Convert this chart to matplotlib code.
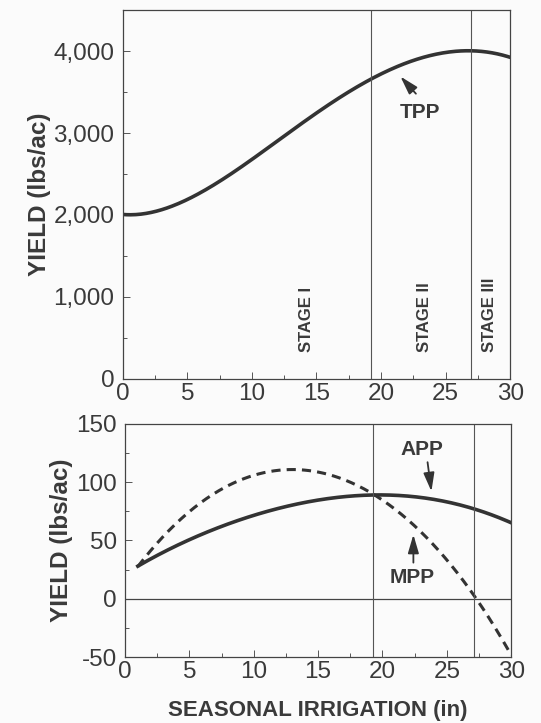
import numpy as np
import matplotlib.pyplot as plt
from matplotlib.ticker import MultipleLocator, FuncFormatter

plt.rcParams['font.family'] = ['Liberation Sans', 'DejaVu Sans']
plt.rcParams['axes.unicode_minus'] = False

# total physical product (lbs/ac) vs seasonal irrigation (in)
tpp_x = [0, 2.5, 5, 7.5, 10, 12.5, 15, 17.5, 20, 22.5, 25, 27.5, 30]
tpp_y = [2000, 2060, 2180, 2400, 2680, 2970, 3250, 3500, 3720, 3880, 3980, 4010, 3920]

# average and marginal physical product
app_x = [1, 2.5, 5, 7.5, 10, 12.5, 15, 17.5, 19.3, 22.5, 25, 27.5, 30]
app_y = [28, 37, 51, 62, 71, 79, 85, 88, 89, 87, 83, 76, 65]
mpp_x = [1, 2.5, 5, 7.5, 10, 12.5, 15, 17.5, 19.3, 22.5, 25, 27.2, 30]
mpp_y = [28, 47, 75, 94, 106, 110, 109, 100, 89, 62, 35, 0, -48]

stage_bounds = [19.2, 27.0]
stage_names = ['STAGE I', 'STAGE II', 'STAGE III']
stage_pos = [14.2, 23.4, 28.4]

ink = '#333333'
txt = '#3a3a3a'

fig = plt.figure(figsize=(5.41, 7.23), dpi=100)
fig.patch.set_facecolor('#fbfbfb')
ax1 = fig.add_axes([0.227, 0.476, 0.716, 0.510])
ax2 = fig.add_axes([0.231, 0.091, 0.714, 0.323])

def smooth(x, y):
    xs = np.linspace(x[0], x[-1], 300)
    c = np.polyfit(x, y, 5)
    return xs, np.polyval(c, xs)

def pointer(ax, tail, tip):
    ax.annotate('', xy=tip, xytext=tail,
                arrowprops=dict(arrowstyle='-|>,head_length=0.75,head_width=0.22',
                                color=ink, lw=1.3, shrinkA=0, shrinkB=0,
                                mutation_scale=15))

# top panel
xs, ys = smooth(tpp_x, tpp_y)
ax1.plot(xs, ys, color=ink, lw=2.6)
ax1.set_xlim(0, 30)
ax1.set_ylim(0, 4500)
ax1.yaxis.set_major_locator(MultipleLocator(1000))
ax1.yaxis.set_minor_locator(MultipleLocator(500))
ax1.yaxis.set_major_formatter(FuncFormatter(lambda v, p: f'{int(v):,}'))
for b in stage_bounds:
    ax1.axvline(b, color='#555555', lw=0.8)
for name, sx in zip(stage_names, stage_pos):
    ax1.text(sx, 330, name, rotation=90, ha='center', va='bottom',
             fontsize=12, fontweight='bold', color=txt,
             family=['Liberation Sans Narrow', 'Liberation Sans'])
ax1.text(23.0, 3250, 'TPP', ha='center', va='center', fontsize=15,
         fontweight='bold', color=txt)
pointer(ax1, (22.7, 3480), (21.5, 3690))
ax1.set_ylabel('YIELD (lbs/ac)', fontsize=17.5, fontweight='bold', color=txt, labelpad=2)

# bottom panel
xs, ys = smooth(app_x, app_y)
ax2.plot(xs, ys, color=ink, lw=2.6)
xs, ys = smooth(mpp_x, mpp_y)
ax2.plot(xs, ys, color=ink, lw=2.2, ls=(0, (3, 2)))
ax2.axhline(0, color='#444444', lw=0.9)
for b in stage_bounds:
    ax2.axvline(b + 0.1, color='#555555', lw=0.8)
ax2.set_xlim(0, 30)
ax2.set_ylim(-50, 150)
ax2.yaxis.set_major_locator(MultipleLocator(50))
ax2.yaxis.set_minor_locator(MultipleLocator(25))
ax2.text(23.1, 128, 'APP', ha='center', va='center', fontsize=15,
         fontweight='bold', color=txt)
pointer(ax2, (23.5, 117), (23.8, 92))
ax2.text(22.3, 18, 'MPP', ha='center', va='center', fontsize=15,
         fontweight='bold', color=txt)
pointer(ax2, (22.4, 31), (22.4, 55))
ax2.set_ylabel('YIELD (lbs/ac)', fontsize=17.5, fontweight='bold', color=txt, labelpad=2)
ax2.set_xlabel('SEASONAL IRRIGATION (in)', fontsize=16, fontweight='bold', color=txt, labelpad=12)

for ax in (ax1, ax2):
    ax.set_facecolor('#fbfbfb')
    ax.xaxis.set_major_locator(MultipleLocator(5))
    ax.xaxis.set_minor_locator(MultipleLocator(2.5))
    ax.tick_params(which='both', direction='in', colors='#555555', labelcolor=txt,
                   labelsize=17.5, width=0.7)
    ax.tick_params(which='minor', length=3)
    ax.tick_params(axis='x', which='major', length=5, pad=3)
    ax.tick_params(axis='y', which='major', length=5, pad=6)
    for s in ax.spines.values():
        s.set_color('#444444')
        s.set_linewidth(0.9)

fig.savefig('out.png', dpi=100, facecolor=fig.get_facecolor())
